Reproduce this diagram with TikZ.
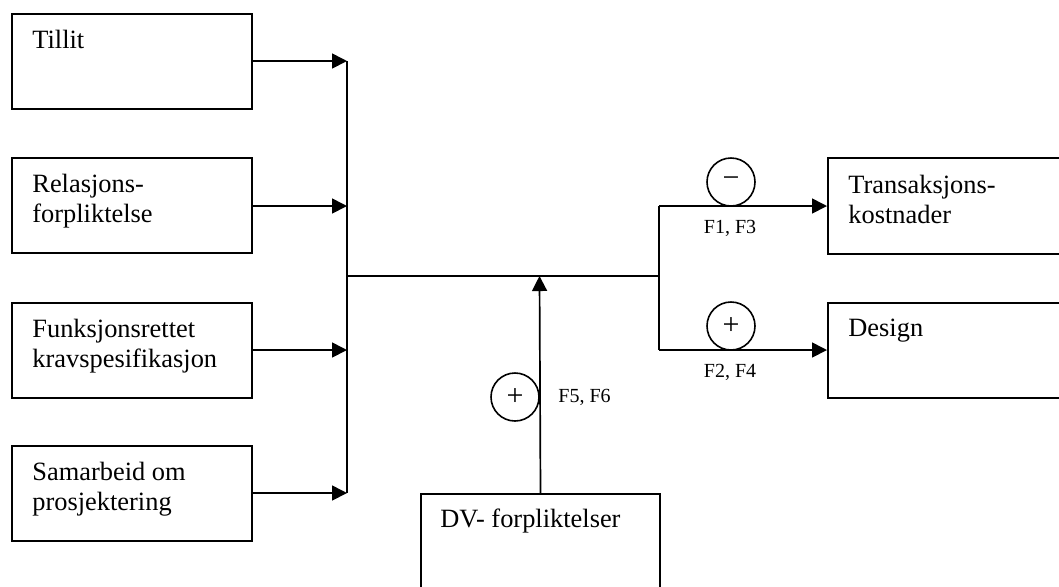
\documentclass[tikz,border=0pt]{standalone}
\usepackage{fontspec}
\setmainfont{Liberation Serif}
\usetikzlibrary{arrows.meta,calc}
\begin{document}
\begin{tikzpicture}[x=0.5pt,y=-0.5pt,
  box/.style={draw, line width=1pt, inner sep=0pt, anchor=north west},
  lbox/.style={box, minimum width=120pt, minimum height=47.5pt},
  txt/.style={inner sep=0pt, anchor=base west, font=\fontsize{13.2pt}{15pt}\selectfont},
  flab/.style={inner sep=0pt, anchor=base, font=\fontsize{10pt}{12pt}\selectfont},
  sign/.style={draw, circle, line width=0.8pt, inner sep=0pt, minimum size=24pt, font=\fontsize{15pt}{15pt}\selectfont},
  conn/.style={line width=0.85pt},
  arr/.style={conn, -{Triangle[length=7.5pt,width=7.5pt]}}
]
\useasboundingbox (0,0) rectangle (1059,586);
\clip (0,0) rectangle (1059,586);

% left boxes
\node[lbox] (tillit) at (11,13) {};
\node[lbox] (relasjon) at (11,157) {};
\node[lbox] (funksjon) at (11,302) {};
\node[lbox] (samarbeid) at (11,445) {};
\node[txt] (tillitT) at ($(tillit.north west)+(21,35)$) {\parbox[t]{110pt}{Tillit}};
\node[txt] (relasjonT) at ($(relasjon.north west)+(21,35)$) {\parbox[t]{110pt}{Relasjons-\\forpliktelse}};
\node[txt] (funksjonT) at ($(funksjon.north west)+(21,35)$) {\parbox[t]{110pt}{Funksjonsrettet\\kravspesifikasjon}};
\node[txt] (samarbeidT) at ($(samarbeid.north west)+(21,35)$) {\parbox[t]{110pt}{Samarbeid om\\prosjektering}};

% right boxes (cut by the page edge)
\node[box, minimum width=127pt, minimum height=48pt] (trans) at (827,157) {};
\node[box, minimum width=127pt, minimum height=47.5pt] (design) at (827,302) {};
\node[txt] (transT) at ($(trans.north west)+(21,36)$) {\parbox[t]{100pt}{Transaksjons-\\kostnader}};
\node[txt] (designT) at ($(design.north west)+(21,34)$) {\parbox[t]{100pt}{Design}};

% bottom box (cut by the page edge)
\node[box, minimum width=119.5pt, minimum height=60pt] (dv) at (420,493) {};
\node[txt] (dvT) at ($(dv.north west)+(20,34)$) {\parbox[t]{110pt}{DV- forpliktelser}};

% junction coordinates
\coordinate (b1) at (347,61);
\coordinate (b2) at (347,206);
\coordinate (b3) at (347,350);
\coordinate (b4) at (347,493);
\coordinate (hl) at (347,276);
\coordinate (hr) at (659,276);
\coordinate (hm) at (539.5,276);
\coordinate (rt) at (659,206);
\coordinate (rb) at (659,350);

% bus lines
\draw[conn] (b1) -- (b4);
\draw[conn] (hl) -- (hr);
\draw[conn] (rt) -- (rb);

% arrows
\draw[arr] (tillit.east |- b1) -- (b1);
\draw[arr] (relasjon.east |- b2) -- (b2);
\draw[arr] (funksjon.east |- b3) -- (b3);
\draw[arr] (samarbeid.east |- b4) -- (b4);
\draw[arr] (rt) -- (trans.west |- rt);
\draw[arr] (rb) -- (design.west |- rb);
\draw[arr] (dv.north) -- (hm);

% signs
\node[sign] (minus) at (731,182) {−};
\node[sign] (plus1) at (731,326) {\raisebox{-3pt}{+}};
\node[sign] (plus2) at (515,397) {\raisebox{-3pt}{+}};

% labels
\node[flab] (f13) at (730,233) {F1, F3};
\node[flab] (f24) at (730,377) {F2, F4};
\node[flab, anchor=base west] (f56) at (558,402) {F5, F6};
\end{tikzpicture}
\end{document}
